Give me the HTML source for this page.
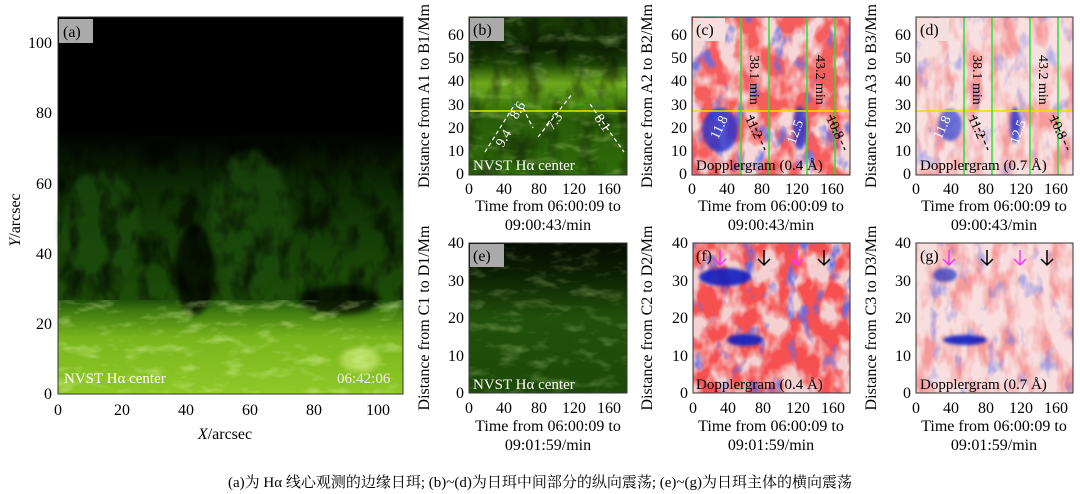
<!DOCTYPE html>
<html><head><meta charset="utf-8"><style>
body{margin:0;background:#fff}
svg{display:block;font-family:"Liberation Serif","Noto Serif CJK SC",serif}
</style></head><body>
<svg width="1080" height="494" viewBox="0 0 1080 494" xmlns="http://www.w3.org/2000/svg">
<defs>
<linearGradient id="ga" x1="0" y1="0" x2="0" y2="1">
<stop offset="0" stop-color="#000"/><stop offset="0.3" stop-color="#000"/>
<stop offset="0.45" stop-color="#0d2a04"/><stop offset="0.6" stop-color="#163f07"/>
<stop offset="0.75" stop-color="#1d4c08"/><stop offset="0.78" stop-color="#3f7a10"/>
<stop offset="0.85" stop-color="#78b51c"/><stop offset="1" stop-color="#90c828"/>
</linearGradient>
<linearGradient id="gb" x1="0" y1="0" x2="0" y2="1">
<stop offset="0" stop-color="#1a3d05"/><stop offset="0.2" stop-color="#0e2403"/>
<stop offset="0.3" stop-color="#1e4606"/><stop offset="0.42" stop-color="#6ea81c"/>
<stop offset="0.52" stop-color="#4d8a12"/><stop offset="0.65" stop-color="#2a5c09"/>
<stop offset="1" stop-color="#2f6a0a"/>
</linearGradient>
<linearGradient id="ge" x1="0" y1="0" x2="0" y2="1">
<stop offset="0" stop-color="#050c01"/><stop offset="0.2" stop-color="#0b1e02"/>
<stop offset="0.5" stop-color="#21500a"/><stop offset="1" stop-color="#1d4a07"/>
</linearGradient>
<filter id="bl"><feGaussianBlur stdDeviation="3"/></filter>
<filter id="bl2"><feGaussianBlur stdDeviation="1.5"/></filter>
<filter id="nred" x="0" y="0" width="1" height="1"><feTurbulence type="fractalNoise" baseFrequency="0.06 0.03" numOctaves="3" seed="3"/><feColorMatrix type="matrix" values="0 0 0 0 0.92 0 0 0 0 0.1 0 0 0 0 0.1 3.5 0 0 0 -1.5"/></filter>
<filter id="nred2" x="0" y="0" width="1" height="1"><feTurbulence type="fractalNoise" baseFrequency="0.05 0.035" numOctaves="3" seed="4"/><feColorMatrix type="matrix" values="0 0 0 0 0.93 0 0 0 0 0.08 0 0 0 0 0.08 4 0 0 0 -1.4"/></filter>
<filter id="nblue" x="0" y="0" width="1" height="1"><feTurbulence type="fractalNoise" baseFrequency="0.07 0.04" numOctaves="3" seed="11"/><feColorMatrix type="matrix" values="0 0 0 0 0.1 0 0 0 0 0.15 0 0 0 0 0.85 4 0 0 0 -2.3"/></filter>
<filter id="ngreen" x="0" y="0" width="1" height="1"><feTurbulence type="fractalNoise" baseFrequency="0.04 0.09" numOctaves="3" seed="5"/><feColorMatrix type="matrix" values="0 0 0 0 0.75 0 0 0 0 0.95 0 0 0 0 0.4 2.5 0 0 0 -1.3"/></filter>
<filter id="ndark" x="0" y="0" width="1" height="1"><feTurbulence type="fractalNoise" baseFrequency="0.05 0.03" numOctaves="3" seed="8"/><feColorMatrix type="matrix" values="0 0 0 0 0 0 0 0 0 0 0 0 0 0 0 3 0 0 0 -1.3"/></filter>
</defs>

<!-- Panel a -->
<rect x="58" y="17" width="345" height="377" fill="url(#ga)"/>
<g filter="url(#bl)" opacity="0.7">
<ellipse cx="100" cy="230" rx="40" ry="60" fill="#1f4c08"/>
<ellipse cx="250" cy="220" rx="40" ry="70" fill="#1f4c08"/>
<ellipse cx="195" cy="270" rx="20" ry="45" fill="#000"/>
<ellipse cx="340" cy="300" rx="40" ry="15" fill="#000"/>
<ellipse cx="360" cy="360" rx="20" ry="12" fill="#c8e870"/>
</g>
<rect x="58" y="140" width="345" height="160" filter="url(#ndark)" opacity="0.6"/>
<rect x="58" y="300" width="345" height="94" filter="url(#ngreen)" opacity="0.5"/>
<rect x="58" y="17" width="345" height="377" fill="none" stroke="#333" stroke-width="1"/>
<rect x="59" y="19" width="34" height="24" fill="#aaa"/>
<text x="63" y="37" font-size="16">(a)</text>
<text x="64" y="383" font-size="15" fill="#fff">NVST Hα center</text>
<text x="337" y="383" font-size="15" fill="#eee">06:42:06</text>
<g font-size="16" text-anchor="middle">
<text x="58" y="415">0</text><text x="122" y="415">20</text><text x="186" y="415">40</text><text x="250" y="415">60</text><text x="314" y="415">80</text><text x="378" y="415">100</text>
<text x="225" y="439"><tspan font-style="italic">X</tspan>/arcsec</text>
</g>
<g font-size="16" text-anchor="end">
<text x="52" y="399">0</text><text x="52" y="329">20</text><text x="52" y="259">40</text><text x="52" y="189">60</text><text x="52" y="118">80</text><text x="52" y="48">100</text>
</g>
<text transform="translate(20,220) rotate(-90)" font-size="16" text-anchor="middle"><tspan font-style="italic">Y</tspan>/arcsec</text>

<!-- Panel b -->
<rect x="469" y="17" width="158" height="158" fill="url(#gb)"/>
<rect x="469" y="17" width="158" height="158" filter="url(#ngreen)" opacity="0.35"/>
<rect x="469" y="17" width="158" height="158" filter="url(#ndark)" opacity="0.4"/>
<line x1="469" y1="111" x2="627" y2="111" stroke="#e8e000" stroke-width="1.5"/>
<g stroke="#fff" stroke-width="1.2" stroke-dasharray="4,3" fill="none">
<line x1="485" y1="152" x2="515" y2="104"/><line x1="523" y1="108" x2="533" y2="128"/>
<line x1="538" y1="137" x2="573" y2="93"/><line x1="590" y1="104" x2="624" y2="152"/>
</g>
<g fill="#fff" font-size="14">
<text transform="translate(503,148) rotate(-60)">9.4</text><text transform="translate(517,120) rotate(-60)">8.6</text>
<text transform="translate(553,131) rotate(-55)">7.3</text><text transform="translate(594,118) rotate(55)">8.1</text>
</g>
<rect x="470" y="18" width="34" height="23" fill="#aaa"/>
<text x="473" y="35" font-size="16">(b)</text>
<text x="473" y="170" font-size="15" fill="#fff">NVST Hα center</text>

<!-- Panel e -->
<rect x="469" y="243" width="158" height="150" fill="url(#ge)"/>
<rect x="469" y="243" width="158" height="150" filter="url(#ngreen)" opacity="0.3"/>
<rect x="470" y="244" width="34" height="23" fill="#aaa"/>
<text x="473" y="261" font-size="16">(e)</text>
<text x="473" y="389" font-size="15" fill="#fff">NVST Hα center</text>

<!-- Doppler panels -->
<rect x="692" y="17" width="158" height="158" fill="#f6d6d6"/>
<rect x="692" y="17" width="158" height="158" filter="url(#nred2)" opacity="0.9"/>
<rect x="692" y="17" width="158" height="158" filter="url(#nblue)" opacity="0.8"/>
<g filter="url(#bl2)">
<ellipse cx="720" cy="130" rx="18" ry="22" fill="#2030d0" opacity="0.8"/>
<ellipse cx="800" cy="128" rx="7" ry="22" fill="#2030d0" opacity="0.8"/>
</g>
<rect x="916" y="17" width="157" height="158" fill="#f8e0e0"/>
<rect x="916" y="17" width="157" height="158" filter="url(#nred)" opacity="0.5"/>
<rect x="916" y="17" width="157" height="158" filter="url(#nblue)" opacity="0.4"/>
<g filter="url(#bl2)">
<ellipse cx="950" cy="125" rx="12" ry="16" fill="#3040d0" opacity="0.7"/>
<ellipse cx="1015" cy="125" rx="5" ry="18" fill="#2030d0" opacity="0.8"/>
</g>
<rect x="693" y="243" width="157" height="150" fill="#f4d0d0"/>
<rect x="693" y="243" width="157" height="150" filter="url(#nred2)" opacity="1"/>
<rect x="693" y="243" width="157" height="150" filter="url(#nblue)" opacity="0.9"/>
<g filter="url(#bl2)">
<ellipse cx="725" cy="277" rx="26" ry="9" fill="#1020c0" opacity="0.9"/>
<ellipse cx="745" cy="340" rx="18" ry="6" fill="#1020c0" opacity="0.9"/>
</g>
<rect x="916" y="243" width="157" height="150" fill="#f8dede"/>
<rect x="916" y="243" width="157" height="150" filter="url(#nred)" opacity="0.5"/>
<rect x="916" y="243" width="157" height="150" filter="url(#nblue)" opacity="0.45"/>
<g filter="url(#bl2)">
<ellipse cx="945" cy="275" rx="12" ry="7" fill="#2030c0" opacity="0.7"/>
<ellipse cx="965" cy="340" rx="22" ry="5" fill="#1020c0" opacity="0.9"/>
</g>
<!-- lines on c,d -->
<g stroke-width="1.5">
<line x1="692" y1="111" x2="850" y2="111" stroke="#e8e000"/>
<line x1="916" y1="111" x2="1073" y2="111" stroke="#e8e000"/>
<line x1="741" y1="17" x2="741" y2="175" stroke="#30e030"/><line x1="769" y1="17" x2="769" y2="175" stroke="#30e030"/><line x1="807" y1="17" x2="807" y2="175" stroke="#30e030"/><line x1="835" y1="17" x2="835" y2="175" stroke="#30e030"/>
<line x1="964" y1="17" x2="964" y2="175" stroke="#30e030"/><line x1="992" y1="17" x2="992" y2="175" stroke="#30e030"/><line x1="1030" y1="17" x2="1030" y2="175" stroke="#30e030"/><line x1="1058" y1="17" x2="1058" y2="175" stroke="#30e030"/>
</g>
<g fill="#fff" font-size="14">
<text transform="translate(750,55) rotate(90)" fill="#000">38.1 min</text>
<text transform="translate(816,55) rotate(90)" fill="#000">43.2 min</text>
<text transform="translate(973,55) rotate(90)" fill="#000">38.1 min</text>
<text transform="translate(1039,55) rotate(90)" fill="#000">43.2 min</text>
<text transform="translate(718,140) rotate(-65)">11.8</text><text transform="translate(795,145) rotate(-70)">12.5</text>
<text transform="translate(941,140) rotate(-65)">11.8</text><text transform="translate(1018,145) rotate(-70)">12.5</text>
</g>
<g font-size="14" fill="#000">
<text transform="translate(745,118) rotate(65)">11.2</text><text transform="translate(826,118) rotate(65)">10.8</text>
<text transform="translate(968,118) rotate(65)">11.2</text><text transform="translate(1049,118) rotate(65)">10.8</text>
</g>
<g stroke="#000" stroke-width="1.2" stroke-dasharray="4,3">
<line x1="750" y1="115" x2="765" y2="150"/><line x1="830" y1="115" x2="845" y2="150"/>
<line x1="973" y1="115" x2="988" y2="150"/><line x1="1053" y1="115" x2="1068" y2="150"/>
</g>
<!-- arrows -->
<g stroke-width="1.5" fill="none">
<path d="M720,250 v15 M714,259 l6,6 l6,-6" stroke="#ff30ff"/>
<path d="M797,250 v15 M791,259 l6,6 l6,-6" stroke="#ff30ff"/>
<path d="M764,250 v15 M758,259 l6,6 l6,-6" stroke="#000"/>
<path d="M824,250 v15 M818,259 l6,6 l6,-6" stroke="#000"/>
<path d="M949,250 v15 M943,259 l6,6 l6,-6" stroke="#ff30ff"/>
<path d="M1020,250 v15 M1014,259 l6,6 l6,-6" stroke="#ff30ff"/>
<path d="M987,250 v15 M981,259 l6,6 l6,-6" stroke="#000"/>
<path d="M1047,250 v15 M1041,259 l6,6 l6,-6" stroke="#000"/>
</g>
<g font-size="16">
<rect x="693" y="18" width="32" height="23" fill="#f4dede"/><text x="696" y="35">(c)</text>
<rect x="917" y="18" width="32" height="23" fill="#f4dede"/><text x="920" y="35">(d)</text>
<text x="696" y="261">(f)</text><text x="920" y="261">(g)</text>
</g>
<g font-size="15">
<text x="696" y="170">Dopplergram (0.4 Å)</text><text x="920" y="170">Dopplergram (0.7 Å)</text>
<text x="696" y="389">Dopplergram (0.4 Å)</text><text x="920" y="389">Dopplergram (0.7 Å)</text>
</g>
<!-- frames -->
<g fill="none" stroke="#333">
<rect x="469" y="17" width="158" height="158"/><rect x="692" y="17" width="158" height="158"/><rect x="916" y="17" width="157" height="158"/>
<rect x="469" y="243" width="158" height="150"/><rect x="693" y="243" width="157" height="150"/><rect x="916" y="243" width="157" height="150"/>
</g>
<!-- tick labels -->
<g font-size="16" text-anchor="middle">
<text x="469" y="194">0</text><text x="504" y="194">40</text><text x="539" y="194">80</text><text x="574" y="194">120</text><text x="609" y="194">160</text>
<text x="692" y="194">0</text><text x="727" y="194">40</text><text x="762" y="194">80</text><text x="797" y="194">120</text><text x="832" y="194">160</text>
<text x="916" y="194">0</text><text x="951" y="194">40</text><text x="986" y="194">80</text><text x="1021" y="194">120</text><text x="1056" y="194">160</text>
<text x="469" y="413">0</text><text x="504" y="413">40</text><text x="539" y="413">80</text><text x="574" y="413">120</text><text x="609" y="413">160</text>
<text x="693" y="413">0</text><text x="728" y="413">40</text><text x="763" y="413">80</text><text x="798" y="413">120</text><text x="833" y="413">160</text>
<text x="916" y="413">0</text><text x="951" y="413">40</text><text x="986" y="413">80</text><text x="1021" y="413">120</text><text x="1056" y="413">160</text>
<text x="548" y="211">Time from 06:00:09 to</text><text x="548" y="230">09:00:43/min</text>
<text x="771" y="211">Time from 06:00:09 to</text><text x="771" y="230">09:00:43/min</text>
<text x="994" y="211">Time from 06:00:09 to</text><text x="994" y="230">09:00:43/min</text>
<text x="548" y="431">Time from 06:00:09 to</text><text x="548" y="450">09:01:59/min</text>
<text x="771" y="431">Time from 06:00:09 to</text><text x="771" y="450">09:01:59/min</text>
<text x="994" y="431">Time from 06:00:09 to</text><text x="994" y="450">09:01:59/min</text>
</g>
<g font-size="16" text-anchor="end">
<text x="464" y="179">0</text><text x="464" y="156">10</text><text x="464" y="133">20</text><text x="464" y="110">30</text><text x="464" y="86">40</text><text x="464" y="63">50</text><text x="464" y="40">60</text>
<text x="687" y="179">0</text><text x="687" y="156">10</text><text x="687" y="133">20</text><text x="687" y="110">30</text><text x="687" y="86">40</text><text x="687" y="63">50</text><text x="687" y="40">60</text>
<text x="911" y="179">0</text><text x="911" y="156">10</text><text x="911" y="133">20</text><text x="911" y="110">30</text><text x="911" y="86">40</text><text x="911" y="63">50</text><text x="911" y="40">60</text>
<text x="464" y="398">0</text><text x="464" y="361">10</text><text x="464" y="323">20</text><text x="464" y="286">30</text><text x="464" y="248">40</text>
<text x="688" y="398">0</text><text x="688" y="361">10</text><text x="688" y="323">20</text><text x="688" y="286">30</text><text x="688" y="248">40</text>
<text x="911" y="398">0</text><text x="911" y="361">10</text><text x="911" y="323">20</text><text x="911" y="286">30</text><text x="911" y="248">40</text>
</g>
<g font-size="16" text-anchor="middle">
<text transform="translate(429,96) rotate(-90)">Distance from A1 to B1/Mm</text>
<text transform="translate(652,96) rotate(-90)">Distance from A2 to B2/Mm</text>
<text transform="translate(876,96) rotate(-90)">Distance from A3 to B3/Mm</text>
<text transform="translate(429,318) rotate(-90)">Distance from C1 to D1/Mm</text>
<text transform="translate(652,318) rotate(-90)">Distance from C2 to D2/Mm</text>
<text transform="translate(876,318) rotate(-90)">Distance from C3 to D3/Mm</text>
</g>
<text x="540" y="487" font-size="15" text-anchor="middle">(a)为 Hα 线心观测的边缘日珥; (b)~(d)为日珥中间部分的纵向震荡; (e)~(g)为日珥主体的横向震荡</text>
</svg>
</body></html>
